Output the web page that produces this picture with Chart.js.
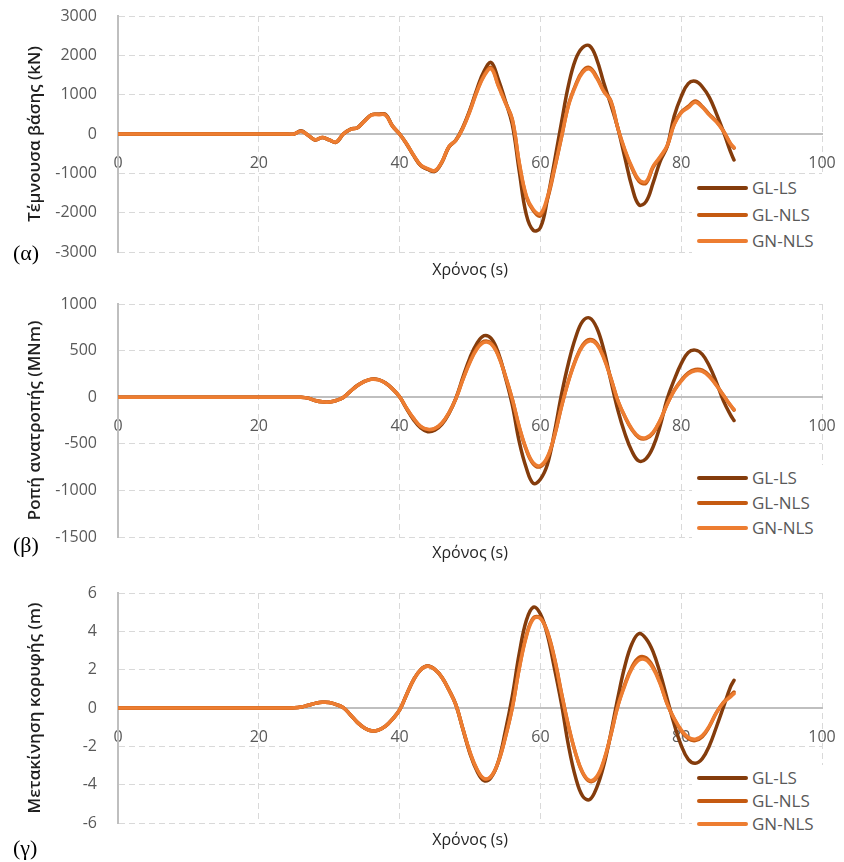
<!DOCTYPE html>
<html>
<head>
<meta charset="utf-8">
<script src="https://cdn.jsdelivr.net/npm/chart.js@4.4.0/dist/chart.umd.min.js"></script>
<style>
  body { margin: 0; background: #fff; width: 844px; height: 862px; position: relative; overflow: hidden; font-family: "Open Sans", sans-serif; }
  .panel { position: absolute; left: 0; width: 844px; }
  .panel canvas { position: absolute; left: 0; top: 0; }
  .tag { position: absolute; left: 13px; font-family: "Liberation Serif", "DejaVu Serif", serif; font-size: 22px; color: #000; line-height: 22px; }
  .legend { position: absolute; left: 692px; width: 145px; background: #fff; }
  .legend .row { position: absolute; left: 0; height: 26px; width: 145px; }
  .legend .swatch { position: absolute; left: 5px; top: 11px; width: 51px; height: 4px; border-radius: 2px; }
  .legend .label { position: absolute; left: 60px; top: 0; line-height: 26px; font-size: 17px; color: #595959; white-space: nowrap; }
</style>
</head>
<body>
<div id="p1" class="panel" style="top:0px;height:290px;"><canvas id="c1" width="844" height="290"></canvas></div>
<div id="p2" class="panel" style="top:290px;height:280px;"><canvas id="c2" width="844" height="280"></canvas></div>
<div id="p3" class="panel" style="top:570px;height:292px;"><canvas id="c3" width="844" height="292"></canvas></div>
<script>
// time axis (s), shared by all series
const times = [0, 10, 20, 24, 25,
  26, 27, 28, 29, 30, 31, 32, 33, 34, 35, 36, 37, 38, 39, 40,
  41, 42, 43, 44, 45, 46, 47, 48, 49, 50, 51, 52, 53, 54, 55,
  56, 57, 58, 59, 60, 61, 62, 63, 64, 65, 66, 67, 68, 69, 70,
  71, 72, 73, 74, 75, 76, 77, 78, 79, 80, 81, 82, 83, 84, 85,
  86, 87, 87.5];

const seriesNames = ['GL-LS', 'GL-NLS', 'GN-NLS'];
const seriesColors = ['#843c0c', '#c55a11', '#ed7d31'];
const timeTicks = [0, 20, 40, 60, 80, 100];

// (α) base shear, kN
const shearGLLS = [0, 0, 0, 0, 0,
  80, -30, -150, -90, -150,
  -210, 0, 120, 160, 330,
  490, 500, 500, 200, 0,
  -250, -550, -800, -900, -950,
  -720, -330, -150, 180, 620,
  1150, 1600, 1820, 1400, 850,
  250, -950, -2050, -2450, -2380,
  -1650, -700, 300, 1250, 1900,
  2200, 2240, 1900, 1300, 750,
  150, -600, -1340, -1800, -1720,
  -1250, -700, -320, 450, 950,
  1280, 1340, 1200, 930, 520,
  60, -450, -660];
const shearGLNLS = [0, 0, 0, 0, 0,
  70, -30, -150, -90, -150,
  -210, 0, 120, 160, 330,
  490, 500, 490, 200, 0,
  -260, -550, -800, -890, -940,
  -720, -330, -160, 160, 600,
  1100, 1500, 1690, 1250, 820,
  380, -750, -1600, -1950, -2080,
  -1650, -900, -80, 750, 1250,
  1600, 1690, 1450, 1100, 850,
  150, -420, -870, -1200, -1250,
  -850, -600, -320, 250, 560,
  700, 840, 700, 500, 320,
  80, -250, -360];
const shearGNNLS = [0, 0, 0, 0, 0,
  70, -30, -145, -90, -150,
  -200, 0, 115, 160, 320,
  480, 490, 480, 200, 0,
  -250, -540, -790, -880, -930,
  -710, -320, -160, 150, 580,
  1080, 1470, 1660, 1230, 800,
  370, -730, -1570, -1920, -2030,
  -1600, -870, -70, 730, 1220,
  1560, 1650, 1420, 1080, 830,
  150, -400, -840, -1160, -1210,
  -820, -580, -300, 240, 540,
  670, 810, 680, 480, 310,
  70, -240, -340];

// (β) overturning moment, MNm
const momentGLLS = [0, 0, 0, 0, 0,
  0, -10, -35, -50, -52,
  -35, -3, 63, 125, 169,
  194, 188, 153, 89, 5,
  -125, -243, -330, -370, -355,
  -292, -176, -10, 215, 425,
  580, 660, 630, 480, 220,
  -80, -480, -760, -925, -880,
  -720, -375, 30, 370, 640,
  815, 850, 745, 510, 180,
  -138, -390, -580, -685, -660,
  -535, -310, -20, 185, 360,
  480, 505, 460, 335, 160,
  -40, -190, -250];
const momentGLNLS = [0, 0, 0, 0, 0,
  0, -10, -35, -50, -52,
  -35, -3, 63, 125, 169,
  194, 188, 153, 89, 5,
  -120, -230, -315, -348, -338,
  -280, -170, -15, 195, 385,
  530, 600, 580, 456, 236,
  -20, -325, -566, -717, -745,
  -650, -417, -100, 179, 403,
  560, 618, 578, 430, 208,
  -36, -210, -350, -434, -445,
  -385, -253, -77, 72, 181,
  262, 298, 290, 230, 130,
  20, -90, -139];
const momentGNNLS = [0, 0, 0, 0, 0,
  0, -10, -35, -50, -52,
  -35, -3, 62, 124, 168,
  192, 186, 151, 88, 5,
  -118, -228, -312, -344, -334,
  -277, -168, -15, 190, 375,
  518, 588, 570, 448, 232,
  -20, -318, -556, -705, -733,
  -640, -410, -98, 174, 394,
  548, 604, 566, 420, 203,
  -36, -205, -342, -424, -435,
  -376, -247, -75, 68, 172,
  250, 283, 276, 220, 125,
  20, -85, -130];

// (γ) top displacement, m
const dispGLLS = [0, 0, 0, 0, 0.01,
  0.05, 0.14, 0.24, 0.30, 0.29,
  0.18, 0.02, -0.35, -0.75, -1.04,
  -1.19, -1.15, -0.95, -0.58, -0.1,
  0.71, 1.48, 2.0, 2.19, 2.02,
  1.61, 0.95, 0.16, -1.12, -2.38,
  -3.3, -3.79, -3.62, -2.82, -1.25,
  0.6, 2.85, 4.56, 5.26, 4.9,
  3.8, 2.06, 0.2, -1.98, -3.62,
  -4.6, -4.78, -4.15, -2.99, -1.33,
  0.53, 2.19, 3.35, 3.88, 3.62,
  2.94, 1.82, 0.49, -0.84, -1.95,
  -2.68, -2.88, -2.64, -1.97, -0.99,
  0.05, 1.1, 1.44];
const dispGLNLS = [0, 0, 0, 0, 0.01,
  0.05, 0.14, 0.24, 0.30, 0.29,
  0.18, 0.02, -0.35, -0.75, -1.04,
  -1.19, -1.15, -0.95, -0.58, -0.1,
  0.71, 1.48, 2.0, 2.19, 2.02,
  1.61, 0.95, 0.16, -1.1, -2.33,
  -3.22, -3.7, -3.58, -2.85, -1.57,
  0.0, 2.09, 3.78, 4.71, 4.7,
  3.97, 2.6, 0.78, -0.95, -2.37,
  -3.39, -3.83, -3.64, -2.79, -1.43,
  0.12, 1.25, 2.14, 2.64, 2.62,
  2.16, 1.32, 0.23, -0.57, -1.19,
  -1.6, -1.7, -1.5, -0.97, -0.24,
  0.3, 0.65, 0.83];
const dispGNNLS = [0, 0, 0, 0, 0.01,
  0.05, 0.14, 0.24, 0.30, 0.29,
  0.18, 0.02, -0.35, -0.75, -1.04,
  -1.19, -1.15, -0.95, -0.58, -0.1,
  0.71, 1.48, 2.0, 2.18, 2.01,
  1.6, 0.94, 0.16, -1.1, -2.3,
  -3.2, -3.68, -3.56, -2.83, -1.56,
  0.0, 2.06, 3.72, 4.65, 4.67,
  3.93, 2.56, 0.74, -0.97, -2.36,
  -3.35, -3.78, -3.58, -2.74, -1.4,
  0.1, 1.18, 2.05, 2.5, 2.5,
  2.07, 1.27, 0.22, -0.55, -1.14,
  -1.53, -1.63, -1.44, -0.93, -0.24,
  0.27, 0.58, 0.75];

// panel setup: layout numbers only, data comes from the arrays above
const panels = [
  { canvas: 'c1', panel: 'p1', tag: '(α)', tagY: 242, yTitle: 'Τέμνουσα βάσης (kN)',
    values: [shearGLLS, shearGLNLS, shearGNNLS], yMin: -3000, yMax: 3000, yStep: 1000,
    padTop: 16, padBottom: 10.4, titleGap: 8.4, legendRow: 188, legendGap: 26.5 },
  { canvas: 'c2', panel: 'p2', tag: '(β)', tagY: 244, yTitle: 'Ροπή ανατροπής (MNm)',
    values: [momentGLLS, momentGLNLS, momentGNNLS], yMin: -1500, yMax: 1000, yStep: 500,
    padTop: 14, padBottom: 7.4, titleGap: 6.4, legendRow: 188, legendGap: 25 },
  { canvas: 'c3', panel: 'p3', tag: '(γ)', tagY: 267, yTitle: 'Μετακίνηση κορυφής (m)',
    values: [dispGLLS, dispGLNLS, dispGNNLS], yMin: -6, yMax: 6, yStep: 2,
    padTop: 23, padBottom: 12.4, titleGap: 7.4, legendRow: 208, legendGap: 23 }
];

const gridColor = ctx => (ctx.tick && ctx.tick.value === 0) ? 'rgba(0,0,0,0)' : '#d9d9d9';
const tickFont = { family: 'Open Sans', size: 16 };
const plainNumber = v => String(v);

function makeChart(p) {
  const datasets = seriesNames.map((name, i) => ({
    label: name,
    data: times.map((t, k) => ({ x: t, y: p.values[i][k] })),
    borderColor: seriesColors[i],
    backgroundColor: seriesColors[i],
    borderWidth: 3.5,
    pointRadius: 0,
    tension: 0.4,
    borderJoinStyle: 'round',
    borderCapStyle: 'round',
    order: 3 - i
  }));

  new Chart(document.getElementById(p.canvas), {
    type: 'line',
    data: { datasets: datasets },
    options: {
      responsive: false,
      animation: false,
      layout: { padding: { left: 0, right: 22, top: p.padTop, bottom: p.padBottom } },
      plugins: {
        legend: { display: false },
        tooltip: { enabled: false },
        title: {
          display: true, text: 'Χρόνος (s)', position: 'bottom', fullSize: false,
          color: '#262626', font: { family: 'Open Sans', size: 16, weight: 'normal' },
          padding: { top: p.titleGap, bottom: 0 }
        }
      },
      scales: {
        x: {
          type: 'linear', min: 0, max: 100,
          position: { y: 0 },
          afterBuildTicks: s => { s.ticks = timeTicks.map(v => ({ value: v })); },
          // label gap comes from an invisible tick mark, so ticks.padding stays 0
          ticks: { color: '#595959', font: tickFont, padding: 0, maxRotation: 0, callback: plainNumber },
          grid: { color: gridColor, lineWidth: 1, drawTicks: true, tickLength: 20, tickColor: 'rgba(0,0,0,0)' },
          border: { display: true, color: '#bfbfbf', width: 2, dash: [6, 4] }
        },
        y: {
          min: p.yMin, max: p.yMax,
          position: 'left',
          ticks: { stepSize: p.yStep, color: '#595959', font: tickFont, padding: 0, callback: plainNumber },
          grid: { color: gridColor, lineWidth: 1, drawTicks: true, tickLength: 21, tickColor: 'rgba(0,0,0,0)' },
          border: { display: true, color: '#bfbfbf', width: 2, dash: [6, 4] },
          title: {
            display: true, text: p.yTitle, color: '#1f1f1f',
            font: { family: 'Open Sans', size: 17, weight: '600' },
            padding: { top: 25, bottom: 0 }
          },
          afterFit: s => { s.width = 118; }
        }
      }
    }
  });

  // legend drawn as html, sitting inside the plot at the lower right
  const panelEl = document.getElementById(p.panel);
  const box = document.createElement('div');
  box.className = 'legend';
  box.style.top = (p.legendRow - 13) + 'px';
  box.style.height = (2 * p.legendGap + 28) + 'px';
  seriesNames.forEach((name, i) => {
    const row = document.createElement('div');
    row.className = 'row';
    row.style.top = (i * p.legendGap) + 'px';
    row.innerHTML = '<div class="swatch" style="background:' + seriesColors[i] + '"></div>' +
      '<div class="label">' + name + '</div>';
    box.appendChild(row);
  });
  panelEl.appendChild(box);

  const tag = document.createElement('div');
  tag.className = 'tag';
  tag.style.top = p.tagY + 'px';
  tag.textContent = p.tag;
  panelEl.appendChild(tag);
}

panels.forEach(makeChart);
</script>
</body>
</html>
